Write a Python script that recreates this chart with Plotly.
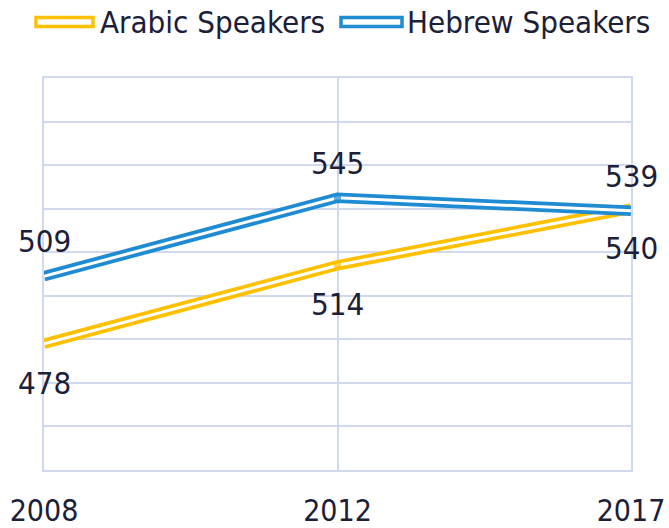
import plotly.graph_objects as go

years = ["2008", "2012", "2017"]
arabic = [478, 514, 540]
hebrew = [509, 545, 539]
series_names = ["Arabic Speakers", "Hebrew Speakers"]

GOLD = "#FFC000"
BLUE = "#1E8BD3"
TEXT = "#1B2038"
GRID = "#D0D9EE"
FONT = "DejaVu Sans Condensed, DejaVu Sans, Liberation Sans, sans-serif"

W, H = 669, 528
ML, MR, MT, MB = 44, 38, 78, 58
PW = W - ML - MR
PH = H - MT - MB

fig = go.Figure()
for vals, col, name in [(arabic, GOLD, series_names[0]), (hebrew, BLUE, series_names[1])]:
    fig.add_trace(go.Scatter(x=years, y=vals, mode="lines", line=dict(color=col, width=10.5),
                             showlegend=False, hoverinfo="skip"))
    fig.add_trace(go.Scatter(x=years, y=vals, mode="lines+markers", line=dict(color="white", width=3),
                             marker=dict(symbol="square", size=[0, 7, 0], color=col,
                                         line=dict(width=0)),
                             showlegend=False, name=name))

ann = []
for i, v in enumerate(arabic):
    ann.append(dict(x=i, y=v, xref="x", yref="y", text=str(v), showarrow=False,
                    yshift=-39, font=dict(size=31, color=TEXT, family=FONT)))
for i, v in enumerate(hebrew):
    ann.append(dict(x=i, y=v, xref="x", yref="y", text=str(v), showarrow=False,
                    yshift=35, font=dict(size=31, color=TEXT, family=FONT)))

def px2paper_x(px):
    return (px - ML) / PW

def px2paper_y(py):
    return (H - MB - py) / PH

shapes = []
legend_items = [(series_names[0], GOLD, 36, 93, 98), (series_names[1], BLUE, 341, 402, 405)]
ly = 22
for name, col, x0, x1, tx in legend_items:
    shapes.append(dict(type="rect", xref="paper", yref="paper",
                       x0=px2paper_x(x0), x1=px2paper_x(x1),
                       y0=px2paper_y(ly + 4.5), y1=px2paper_y(ly - 4.5),
                       line=dict(color=col, width=3.5), fillcolor="white"))
    ann.append(dict(x=px2paper_x(tx), y=px2paper_y(ly), xref="paper", yref="paper",
                    xanchor="left", yanchor="middle", text=name, showarrow=False,
                    font=dict(size=31, color=TEXT, family=FONT)))

fig.update_layout(
    width=W, height=H,
    margin=dict(l=ML, r=MR, t=MT, b=MB, autoexpand=False),
    paper_bgcolor="white", plot_bgcolor="white",
    showlegend=False,
    annotations=ann, shapes=shapes,
    xaxis=dict(type="category", range=[0, 2], showgrid=True, gridcolor=GRID, gridwidth=1.5,
               zeroline=False, showline=True, mirror=True, linecolor=GRID, linewidth=1.5,
               ticks="", automargin=False,
               tickfont=dict(size=30, color=TEXT, family=FONT), ticklabelstandoff=13),
    yaxis=dict(range=[420, 600], dtick=20, showgrid=True, gridcolor=GRID, gridwidth=1.5,
               zeroline=False, showline=True, mirror=True, linecolor=GRID, linewidth=1.5,
               showticklabels=False, ticks="", automargin=False),
)

fig.write_html("out.html", config={"displayModeBar": False},
               post_script="document.body.style.margin='0px';")
